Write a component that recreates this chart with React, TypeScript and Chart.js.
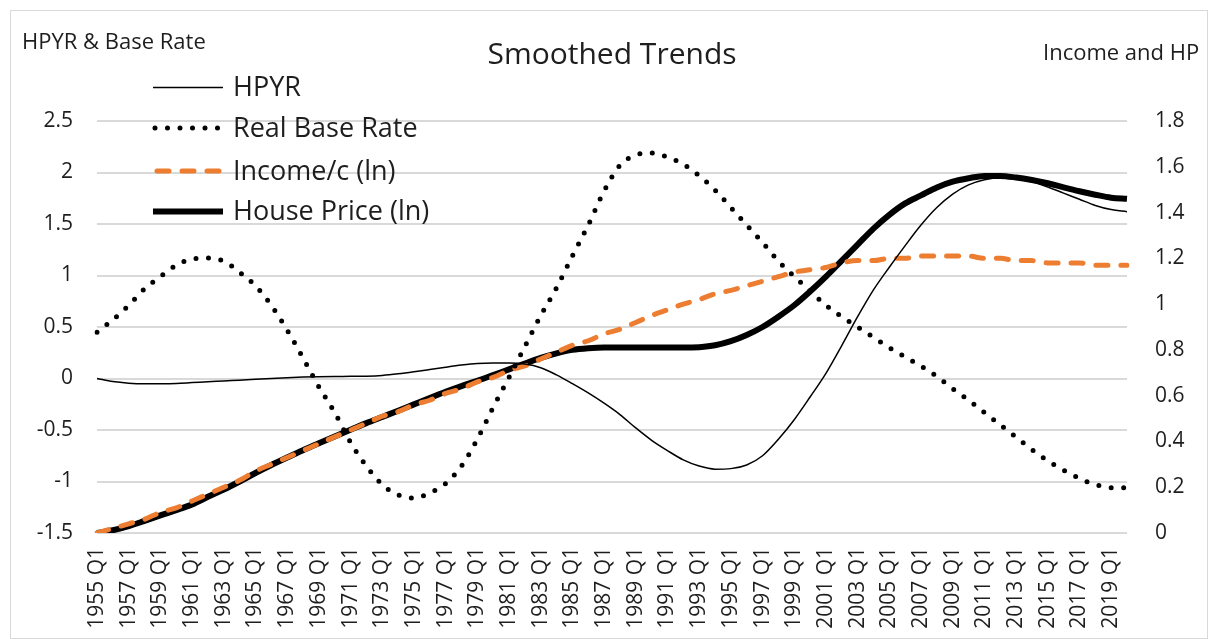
import React, { useEffect, useRef } from "react";
import { Chart, registerables } from "chart.js";

Chart.register(...registerables);

// ---------- data ----------
const categories = [
  "1955 Q1", "1956 Q1", "1957 Q1", "1958 Q1", "1959 Q1", "1960 Q1", "1961 Q1", "1962 Q1", "1963 Q1", "1964 Q1",
  "1965 Q1", "1966 Q1", "1967 Q1", "1968 Q1", "1969 Q1", "1970 Q1", "1971 Q1", "1972 Q1", "1973 Q1", "1974 Q1",
  "1975 Q1", "1976 Q1", "1977 Q1", "1978 Q1", "1979 Q1", "1980 Q1", "1981 Q1", "1982 Q1", "1983 Q1", "1984 Q1",
  "1985 Q1", "1986 Q1", "1987 Q1", "1988 Q1", "1989 Q1", "1990 Q1", "1991 Q1", "1992 Q1", "1993 Q1", "1994 Q1",
  "1995 Q1", "1996 Q1", "1997 Q1", "1998 Q1", "1999 Q1", "2000 Q1", "2001 Q1", "2002 Q1", "2003 Q1", "2004 Q1",
  "2005 Q1", "2006 Q1", "2007 Q1", "2008 Q1", "2009 Q1", "2010 Q1", "2011 Q1", "2012 Q1", "2013 Q1", "2014 Q1",
  "2015 Q1", "2016 Q1", "2017 Q1", "2018 Q1", "2019 Q1", "2020 Q1",
];

const hpyr = [
  0.0, -0.03, -0.045, -0.05, -0.05, -0.048, -0.04, -0.032, -0.024, -0.016,
  -0.008, 0.0, 0.008, 0.014, 0.018, 0.02, 0.021, 0.023, 0.03, 0.045,
  0.065, 0.088, 0.11, 0.13, 0.145, 0.15, 0.15, 0.14, 0.105, 0.035,
  -0.05, -0.14, -0.24, -0.35, -0.48, -0.60, -0.70, -0.79, -0.85, -0.88,
  -0.875, -0.84, -0.75, -0.59, -0.40, -0.18, 0.05, 0.32, 0.60, 0.86,
  1.08, 1.29, 1.49, 1.66, 1.79, 1.88, 1.93, 1.95, 1.94, 1.91,
  1.86, 1.80, 1.74, 1.68, 1.64, 1.62,
];

const realBaseRate = [
  0.45, 0.57, 0.71, 0.87, 0.99, 1.10, 1.16, 1.17, 1.14, 1.03,
  0.90, 0.71, 0.47, 0.20, -0.08, -0.33, -0.62, -0.85, -1.03, -1.13,
  -1.16, -1.11, -1.02, -0.85, -0.59, -0.28, 0.01, 0.31, 0.61, 0.88,
  1.19, 1.49, 1.82, 2.07, 2.17, 2.19, 2.15, 2.08, 1.97, 1.83,
  1.66, 1.49, 1.32, 1.14, 0.99, 0.85, 0.71, 0.60, 0.50, 0.40,
  0.30, 0.21, 0.12, 0.02, -0.10, -0.21, -0.33, -0.45, -0.57, -0.69,
  -0.80, -0.89, -0.97, -1.03, -1.06, -1.06,
];

const incomeLn = [
  0.0, 0.02, 0.04, 0.06, 0.09, 0.11, 0.14, 0.17, 0.2, 0.23,
  0.27, 0.3, 0.33, 0.36, 0.39, 0.42, 0.45, 0.48, 0.51, 0.53,
  0.56, 0.58, 0.61, 0.63, 0.66, 0.68, 0.71, 0.73, 0.76, 0.79,
  0.82, 0.84, 0.87, 0.89, 0.92, 0.95, 0.975, 1.0, 1.02, 1.045,
  1.06, 1.08, 1.1, 1.12, 1.14, 1.15, 1.16, 1.18, 1.19, 1.19,
  1.2, 1.2, 1.21, 1.21, 1.21, 1.21, 1.2, 1.2, 1.19, 1.19,
  1.18, 1.18, 1.18, 1.17, 1.17, 1.17,
];

const housePriceLn = [
  0.0, 0.012, 0.03, 0.053, 0.077, 0.1, 0.125, 0.158, 0.19, 0.225,
  0.262, 0.297, 0.33, 0.362, 0.392, 0.422, 0.451, 0.48, 0.507, 0.534,
  0.562, 0.59, 0.617, 0.642, 0.665, 0.69, 0.715, 0.74, 0.765, 0.785,
  0.8, 0.807, 0.81, 0.81, 0.81, 0.81, 0.81, 0.81, 0.812, 0.82,
  0.838, 0.865, 0.9, 0.945, 0.995, 1.055, 1.12, 1.19, 1.26, 1.33,
  1.39, 1.44, 1.475, 1.51, 1.535, 1.55, 1.56, 1.56, 1.553, 1.542,
  1.528, 1.51, 1.493, 1.478, 1.465, 1.46,
];

const leftTicks = [-1.5, -1, -0.5, 0, 0.5, 1, 1.5, 2, 2.5];
const rightTicks = [0, 0.2, 0.4, 0.6, 0.8, 1, 1.2, 1.4, 1.6, 1.8];

const seriesNames = ["HPYR", "Real Base Rate", "Income/c (ln)", "House Price (ln)"];
const chartTitle = "Smoothed Trends";
const leftAxisTitle = "HPYR & Base Rate";
const rightAxisTitle = "Income and HP";

// ---------- styles ----------
const FONT = "'Open Sans', sans-serif";
const TEXT = "#1e1e1e";
const ORANGE = "#ED7D31";

const styles = [
  { color: "#000", width: 1.5, dash: [] as number[], cap: "butt" as CanvasLineCap },
  { color: "#000", width: 5, dash: [0, 12.5], cap: "round" as CanvasLineCap },
  { color: ORANGE, width: 5, dash: [12, 13], cap: "round" as CanvasLineCap },
  { color: "#000", width: 6, dash: [] as number[], cap: "butt" as CanvasLineCap },
];

const overlayPlugin = {
  id: "overlay",
  afterDraw(chart: any) {
    const ctx = chart.ctx as CanvasRenderingContext2D;
    ctx.save();
    ctx.fillStyle = TEXT;
    ctx.textBaseline = "alphabetic";
    ctx.font = `30px ${FONT}`;
    ctx.textAlign = "center";
    ctx.fillText(chartTitle, 601, 53);
    ctx.font = `22px ${FONT}`;
    ctx.textAlign = "left";
    ctx.fillText(leftAxisTitle, 11, 38);
    ctx.fillText(rightAxisTitle, 1032, 49);

    const rows = [76.5, 117, 160, 200.5];
    for (let i = 0; i < 4; i++) {
      const s = styles[i];
      const y = rows[i];
      ctx.beginPath();
      ctx.strokeStyle = s.color;
      ctx.lineWidth = s.width;
      ctx.setLineDash(s.dash);
      ctx.lineCap = s.cap;
      const x0 = i === 1 ? 144 : i === 2 ? 146 : 142;
      const x1 = i === 1 ? 212 : i === 2 ? 210 : 212;
      ctx.moveTo(x0, y);
      ctx.lineTo(x1, y);
      ctx.stroke();
      ctx.setLineDash([]);
      ctx.fillStyle = TEXT;
      ctx.font = `27px ${FONT}`;
      ctx.textAlign = "left";
      ctx.textBaseline = "middle";
      ctx.fillText(seriesNames[i], 222, y + 1);
    }
    ctx.restore();
  },
};

export default function App() {
  const ref = useRef<HTMLCanvasElement | null>(null);

  useEffect(() => {
    if (!ref.current) return;
    const seriesData = [hpyr, realBaseRate, incomeLn, housePriceLn];
    const axes = ["y", "y", "y1", "y1"];
    const chart = new Chart(ref.current, {
      type: "line",
      data: {
        labels: categories,
        datasets: seriesData.map((d, i) => ({
          label: seriesNames[i],
          data: d,
          yAxisID: axes[i],
          borderColor: styles[i].color,
          borderWidth: styles[i].width,
          borderDash: styles[i].dash,
          borderCapStyle: styles[i].cap,
          borderJoinStyle: "round" as CanvasLineJoin,
          pointRadius: 0,
          fill: false,
          cubicInterpolationMode: "monotone" as const,
        })),
      },
      options: {
        responsive: false,
        maintainAspectRatio: false,
        animation: false,
        layout: { padding: { top: 110, left: 0, right: 0, bottom: 0 } },
        plugins: {
          legend: { display: false },
          tooltip: { enabled: false },
          title: { display: false },
        },
        scales: {
          x: {
            type: "category",
            offset: false,
            grid: { display: false, drawTicks: false },
            border: { display: false },
            ticks: {
              autoSkip: false,
              maxRotation: 90,
              minRotation: 90,
              padding: 14,
              color: TEXT,
              font: { family: FONT, size: 21 },
              callback: (_v: any, i: number) => (i % 2 === 0 ? categories[i] : ""),
            },
            afterFit: (s: any) => {
              s.height = 105;
            },
          },
          y: {
            position: "left",
            min: -1.5,
            max: 2.5,
            afterBuildTicks: (s: any) => {
              s.ticks = leftTicks.map((v) => ({ value: v }));
            },
            grid: { color: "#d9d9d9", lineWidth: 2, drawTicks: false },
            border: { display: false },
            ticks: {
              padding: 24,
              color: TEXT,
              font: { family: FONT, size: 21 },
              callback: (v: any) => String(Number(Number(v).toFixed(1))),
            },
            afterFit: (s: any) => {
              s.width = 86;
            },
          },
          y1: {
            position: "right",
            min: 0,
            max: 1.8,
            afterBuildTicks: (s: any) => {
              s.ticks = rightTicks.map((v) => ({ value: v }));
            },
            grid: { display: false, drawTicks: false },
            border: { display: false },
            ticks: {
              padding: 28,
              color: TEXT,
              font: { family: FONT, size: 21 },
              callback: (v: any) => String(Number(Number(v).toFixed(1))),
            },
            afterFit: (s: any) => {
              s.width = 80;
            },
          },
        },
      } as any,
      plugins: [overlayPlugin],
    });
    return () => chart.destroy();
  }, []);

  return (
    <div
      style={{
        position: "fixed",
        left: 10,
        top: 10,
        width: 1198,
        height: 629,
        boxSizing: "border-box",
        border: "1px solid #d9d9d9",
        background: "#fff",
        overflow: "hidden",
      }}
    >
      <canvas
        ref={ref}
        width={1196}
        height={627}
        style={{ position: "absolute", left: 0, top: 0, width: 1196, height: 627 }}
      />
    </div>
  );
}
